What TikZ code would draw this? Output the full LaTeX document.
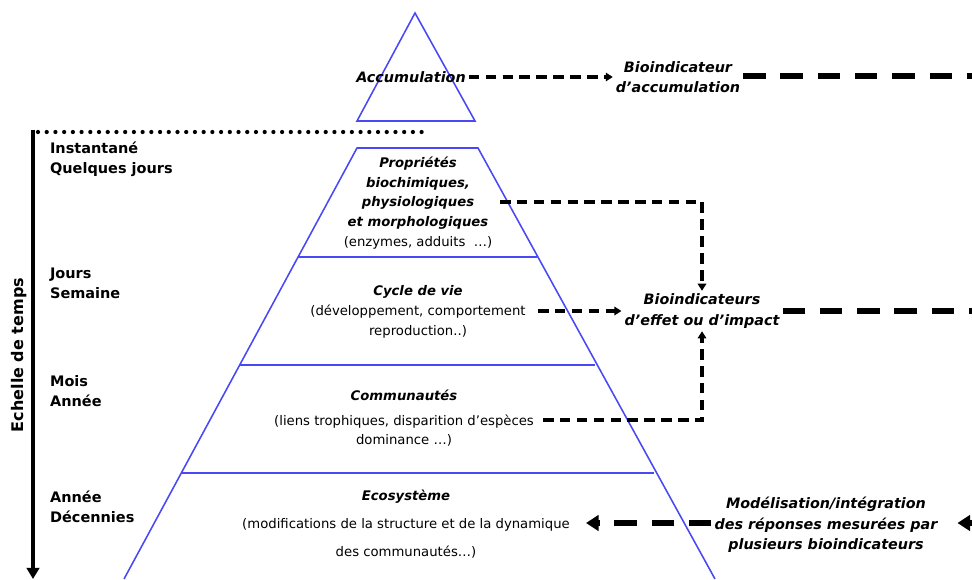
\documentclass[tikz,border=0pt]{standalone}
\usepackage{fontspec}
\setmainfont{DejaVu Sans}
\usetikzlibrary{arrows.meta}
\usetikzlibrary{positioning}

\definecolor{pyrblue}{RGB}{72,72,245}
\newcommand{\titre}[1]{\textbf{\textit{#1}}}

\begin{document}
\begin{tikzpicture}[x=0.025cm,y=-0.025cm,
    level/.style={draw=pyrblue,line width=1.1pt},
    txt/.style={font=\fontsize{9.4}{14}\selectfont,align=center,inner sep=2pt},
    bioind/.style={txt,font=\fontsize{10.2}{14.5}\selectfont\bfseries\itshape},
    timelbl/.style={txt,font=\fontsize{10.3}{14}\selectfont\bfseries,align=left,anchor=west},
    dsh/.style={line width=2.2pt,dash pattern=on 7.5pt off 4.5pt,-{Triangle[length=5pt,width=6pt]}},
    bigdsh/.style={line width=3.6pt,dash pattern=on 16pt off 10.5pt}]
  \useasboundingbox (0,0) rectangle (972,579);
  \clip (0,0) rectangle (972,579);

  % pyramide
  \draw[level] (415,13) -- (357,121) -- (475,121) -- cycle;
  \draw[level] (124,579) -- (357,148) -- (478,148) -- (715,579);
  \foreach \y in {257,365,473} {
    \draw[level] ({357-0.541*(\y-148)},\y) -- ({478+0.541*(\y-148)},\y);
  }

  % echelle de temps
  \coordinate (t0) at (33,130);
  \coordinate (t1) at (33,579);
  \draw[line width=3pt,-{Triangle[length=8pt,width=9pt]}] (t0) -- (t1);
  \draw[line width=3pt,line cap=round,dash pattern=on 0pt off 6.2pt] (38,132) -- (430,132);
  \node[txt,font=\fontsize{11.4}{13}\selectfont\bfseries,rotate=90] (echelle) at (19,355) {Echelle de temps};
  \foreach \y/\txt [count=\i] in {159/{Instantané\\Quelques jours},
      283/{Jours\\Semaine}, 391/{Mois\\Année}, 507/{Année\\Décennies}} {
    \node[timelbl] (time\i) at (47,\y) {\txt};
  }

  % niveaux
  \node[bioind] (acc) at (411,77) {Accumulation};
  \node[txt] (prop) at (418,203) {\titre{Propriétés}\\\titre{biochimiques,}\\
    \titre{physiologiques}\\\titre{et morphologiques}\\(enzymes, adduits~~…)};
  \node[txt] (cycle) at (418,312) {\titre{Cycle de vie}\\(développement, comportement\\reproduction..)};
  \node[txt,font=\fontsize{9.4}{13}\selectfont] (commun) at (404,418)
    {\titre{Communautés}\\[5pt](liens trophiques, disparition d’espèces\\dominance …)};
  \node[txt] (ecosys) at (406,524) {\titre{Ecosystème}\\[6pt](modifications de la structure et de la dynamique\\[6pt]des communautés…)};

  % bioindicateurs
  \node[bioind] (bioacc) at (678,77) {Bioindicateur\\d’accumulation};
  \node[bioind] (bioeff) at (702,311) {Bioindicateurs\\d’effet ou d’impact};
  \node[bioind] (model) at (826,525) {Modélisation/intégration\\des réponses mesurées par\\plusieurs bioindicateurs};

  \coordinate (p1) at (500,202);
  \coordinate (c1) at (538,311);
  \coordinate (c2) at (543,420);
  \coordinate (e1) at (586,523);
  \coordinate (r1) at (990,76);
  \coordinate (r2) at (990,311);
  \coordinate (r3) at (990,523);

  \draw[dsh] (acc.east) -- (bioacc.west |- acc.east);
  \draw[dsh] (p1) -| (bioeff.north);
  \draw[dsh] (c1) -- (bioeff.west |- c1);
  \draw[dsh] (c2) -| (bioeff.south);
  \draw[bigdsh] (bioacc.east |- r1) -- (r1) -- (r3);
  \draw[bigdsh] (bioeff.east) -- (r2);
  \draw[bigdsh,-{Triangle[length=9pt,width=11pt]},shorten >=12pt] (r3) -- (model.east |- r3);
  \draw[bigdsh,-{Triangle[length=9pt,width=11pt]}] (model.west |- e1) -- (e1);
\end{tikzpicture}
\end{document}
